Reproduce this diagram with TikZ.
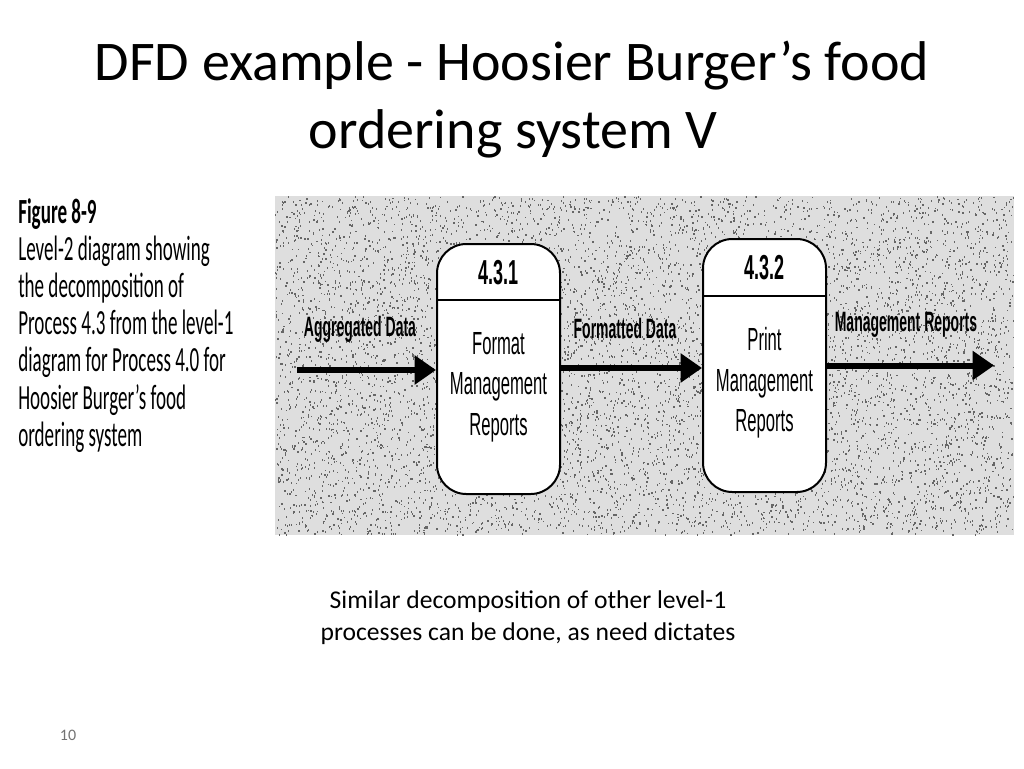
\documentclass[tikz,border=0pt]{standalone}
\usepackage{fontspec}
\setmainfont{Carlito}
\newfontfamily\figfont[FakeStretch=0.54]{Carlito}
\newfontfamily\dfdfont[FakeStretch=0.52]{Liberation Sans}
\newfontfamily\lblfont[FakeStretch=0.5]{Liberation Sans}
\usetikzlibrary{arrows.meta,calc}
\tikzset{
  titletext/.style={anchor=base, inner sep=0, font=\fontsize{42}{51}\selectfont},
  figtext/.style={anchor=base west, inner sep=0, font=\figfont\fontsize{26.5}{28}\selectfont},
  proc/.style={draw, line width=1.5pt, fill=white, rounded corners=22pt, minimum width=92.25pt, minimum height=187.5pt, inner sep=0},
  procnum/.style={inner sep=0, font=\dfdfont\bfseries\fontsize{26}{30}\selectfont},
  proctext/.style={inner sep=0, align=center, font=\dfdfont\fontsize{24}{30.5}\selectfont},
  flowlabel/.style={inner sep=0, font=\lblfont\bfseries\fontsize{21}{24}\selectfont},
  flow/.style={line width=4.5pt, -{Triangle[length=16pt,width=21pt]}},
  divider/.style={line width=1.5pt},
  caption/.style={anchor=base, inner sep=0, font=\fontsize{19.2}{24}\selectfont}
}
\begin{document}
\begin{tikzpicture}[x=0.75pt,y=-0.75pt]
\useasboundingbox (0,0) rectangle (1024,768);
\fill[white] (0,0) rectangle (1024,768);

% title
\node[titletext] (t1) at (512,80) {DFD example - Hoosier Burger’s food};
\node[titletext] (t2) at (513,148) {ordering system V};

% figure caption on the left
\node[figtext, font=\figfont\bfseries\fontsize{26.5}{28}\selectfont] (f0) at (18,223) {Figure 8-9};
\node[figtext] (f1) at (18,260.2) {Level-2 diagram showing};
\node[figtext] (f2) at (18,297.4) {the decomposition of};
\node[figtext] (f3) at (18,334.6) {Process 4.3 from the level-1};
\node[figtext] (f4) at (18,371.8) {diagram for Process 4.0 for};
\node[figtext] (f5) at (18,409) {Hoosier Burger’s food};
\node[figtext] (f6) at (18,446.2) {ordering system};

% stippled background
\fill[black!13] (275,196) rectangle (1014,535);
\pgfmathsetseed{12}
\foreach \i in {1,...,8000}{
  \pgfmathsetmacro\rx{275+738*rnd}
  \pgfmathsetmacro\ry{196+338*rnd}
  \fill[black!60] (\rx,\ry) rectangle ++(1.2,1.8);
}

% processes
\node[proc] (p1) at (498.5,369) {};
\node[proc, minimum height=189.75pt] (p2) at (764.5,365.5) {};
\draw[divider] ($(p1.north west)+(0,57)$) -- ($(p1.north east)+(0,57)$);
\draw[divider] ($(p2.north west)+(0,58)$) -- ($(p2.north east)+(0,58)$);
\node[procnum] (n1) at (498.5,273) {4.3.1};
\node[procnum] (n2) at (764.5,268) {4.3.2};
\node[proctext] (x1) at (498.5,387) {Format\\Management\\Reports};
\node[proctext] (x2) at (764.5,383) {Print\\Management\\Reports};

% flows
\coordinate (src) at (297,370);
\coordinate (snk) at (994,365.5);
\draw[flow] (src) -- (src -| p1.west);
\draw[flow] ($(p1.east)+(0,-1)$) -- ($(p1.east -| p2.west)+(0,-1)$);
\draw[flow] (p2.east) -- (snk);
\node[flowlabel] (l1) at (360,329) {Aggregated Data};
\node[flowlabel] (l2) at (625,328) {Formatted Data};
\node[flowlabel] (l3) at (906,325) {Management Reports};

% bottom caption
\node[caption] (c1) at (528,608) {Similar decomposition of other level-1};
\node[caption] (c2) at (528,640) {processes can be done, as need dictates};

% page number
\node[inner sep=0, text=black!55, font=\fontsize{12}{14}\selectfont] (pg) at (68,735) {10};
\end{tikzpicture}
\end{document}
